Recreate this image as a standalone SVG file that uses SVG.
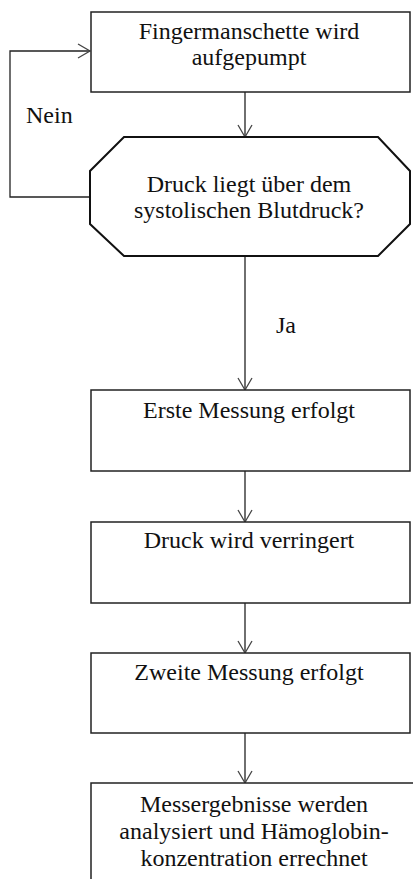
<svg xmlns="http://www.w3.org/2000/svg" width="413" height="879" viewBox="0 0 413 879">
<style>
.box{fill:#fff;stroke:#222;stroke-width:1.5}
.oct{fill:#fff;stroke:#111;stroke-width:2}
.t{font-size:24px;fill:#111;text-anchor:middle}
.lbl{font-size:24px;fill:#111}
.c{fill:none;stroke:#222;stroke-width:1.3}
</style>
<defs>
<marker id="arr" markerUnits="userSpaceOnUse" markerWidth="16" markerHeight="16" refX="13" refY="8" orient="auto" overflow="visible">
<path d="M1,1 L13,8 L1,15" fill="none" stroke="#444" stroke-width="1.3"/>
</marker>
</defs>
<g font-family="Liberation Serif, Times New Roman, DejaVu Serif, serif">
<g id="connectors">
<path class="c" d="M90,197 H10 V51 H90" marker-end="url(#arr)"/>
<path class="c" d="M245,92 V137" marker-end="url(#arr)"/>
<path class="c" d="M245,256 V390" marker-end="url(#arr)"/>
<path class="c" d="M245,471 V522" marker-end="url(#arr)"/>
<path class="c" d="M245,603 V653" marker-end="url(#arr)"/>
<path class="c" d="M245,733 V783" marker-end="url(#arr)"/>
<text class="lbl" x="26" y="123">Nein</text>
<text class="lbl" x="276" y="333">Ja</text>
</g>
<g id="n1">
<rect class="box" x="91" y="12" width="319" height="80"/>
<text class="t" x="249" y="39">Fingermanschette wird</text>
<text class="t" x="249" y="65">aufgepumpt</text>
</g>
<g id="n2">
<polygon class="oct" points="124,137 378,137 410,171 410,224 378,256 124,256 90,224 90,171"/>
<text class="t" x="249" y="192">Druck liegt über dem</text>
<text class="t" x="249" y="218">systolischen Blutdruck?</text>
</g>
<g id="n3">
<rect class="box" x="91" y="390" width="319" height="81"/>
<text class="t" x="249" y="418">Erste Messung erfolgt</text>
</g>
<g id="n4">
<rect class="box" x="91" y="522" width="319" height="81"/>
<text class="t" x="249" y="548">Druck wird verringert</text>
</g>
<g id="n5">
<rect class="box" x="91" y="653" width="319" height="80"/>
<text class="t" x="249" y="680">Zweite Messung erfolgt</text>
</g>
<g id="n6">
<rect class="box" x="91" y="783" width="330" height="110"/>
<text class="t" x="254" y="812">Messergebnisse werden</text>
<text class="t" x="254" y="839">analysiert und Hämoglobin-</text>
<text class="t" x="254" y="866">konzentration errechnet</text>
</g>
</g>
</svg>
